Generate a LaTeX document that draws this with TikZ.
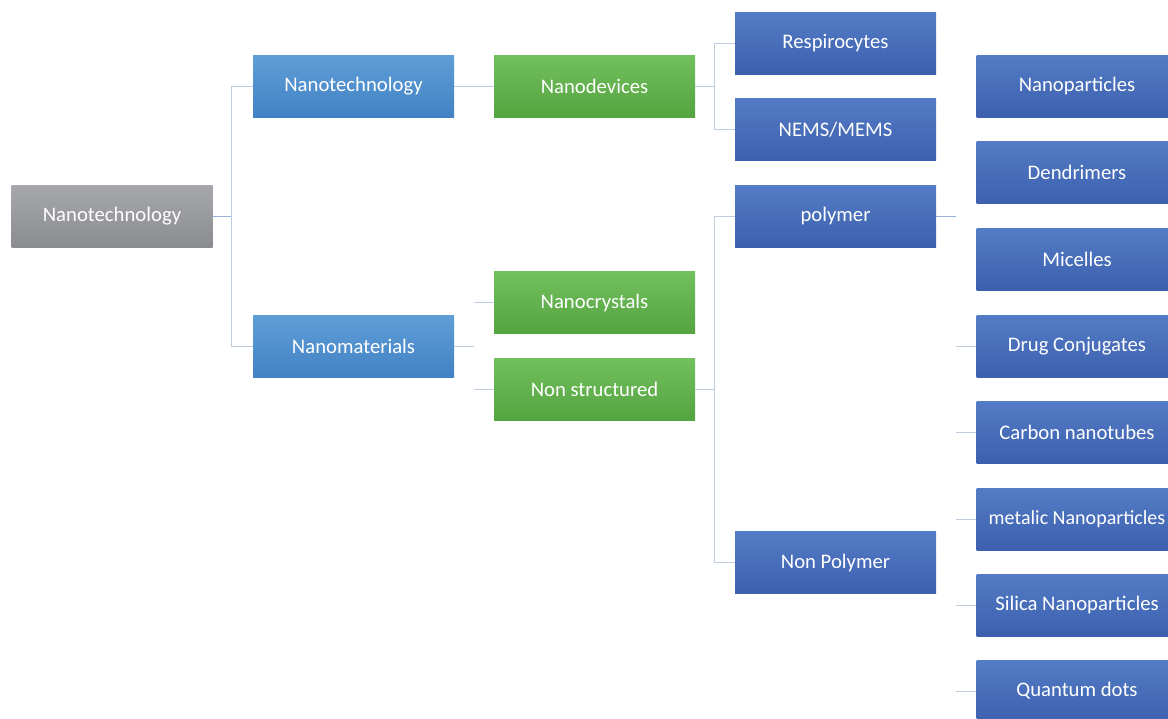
\documentclass[tikz,border=0pt]{standalone}
\usepackage{fontspec}
\setmainfont{Carlito}
\definecolor{grayT}{RGB}{166,168,171}
\definecolor{grayB}{RGB}{138,140,143}
\definecolor{lbT}{RGB}{95,158,215}
\definecolor{lbB}{RGB}{66,130,196}
\definecolor{grT}{RGB}{114,191,94}
\definecolor{grB}{RGB}{84,164,64}
\definecolor{dbT}{RGB}{84,124,198}
\definecolor{dbB}{RGB}{60,96,174}
\definecolor{conn}{RGB}{190,203,225}
\definecolor{connB}{RGB}{150,178,215}
\begin{document}
\begin{tikzpicture}[x=1pt,y=-1pt,
  box/.style={rectangle, minimum width=201pt, minimum height=62pt, inner sep=0pt,
    text=white, font=\fontsize{20.7}{24}\selectfont},
  graybox/.style={box, top color=grayT, bottom color=grayB},
  lbox/.style={box, top color=lbT, bottom color=lbB},
  gbox/.style={box, top color=grT, bottom color=grB},
  dbox/.style={box, top color=dbT, bottom color=dbB},
  link/.style={draw=conn, line width=1pt}]
\useasboundingbox (0,0) rectangle (1168,718);
\clip (0,0) rectangle (1168,718);
\node[graybox] (root) at (112,216) {\raisebox{-1.5pt}{Nanotechnology}};
\node[lbox] (nt) at (353.5,86) {\raisebox{-1.5pt}{Nanotechnology}};
\node[lbox] (nm) at (353.5,346) {\raisebox{-1.5pt}{Nanomaterials}};
\node[gbox] (nd) at (594.5,86) {\raisebox{-1.5pt}{Nanodevices}};
\node[gbox] (nc) at (594.5,302.5) {\raisebox{-1.5pt}{Nanocrystals}};
\node[gbox] (ns) at (594.5,389) {\raisebox{-1.5pt}{Non structured}};
\node[dbox] (re) at (835.5,43) {\raisebox{-1.5pt}{Respirocytes}};
\node[dbox] (ne) at (835.5,129.5) {\raisebox{-1.5pt}{NEMS/MEMS}};
\node[dbox] (po) at (835.5,216) {\raisebox{-1.5pt}{polymer}};
\node[dbox] (np) at (835.5,562.5) {\raisebox{-1.5pt}{Non Polymer}};
\node[dbox] (r1) at (1077,86) {\raisebox{-1.5pt}{Nanoparticles}};
\node[dbox] (r2) at (1077,172.5) {\raisebox{-1.5pt}{Dendrimers}};
\node[dbox] (r3) at (1077,259) {\raisebox{-1.5pt}{Micelles}};
\node[dbox] (r4) at (1077,346) {\raisebox{-1.5pt}{Drug Conjugates}};
\node[dbox] (r5) at (1077,432) {\raisebox{-1.5pt}{Carbon nanotubes}};
\node[dbox, font=\fontsize{20}{24}\selectfont] (r6) at (1077,519) {\raisebox{-1.5pt}{metalic Nanoparticles}};
\node[dbox] (r7) at (1077,605) {\raisebox{-1.5pt}{Silica Nanoparticles}};
\node[dbox] (r8) at (1077,691) {\raisebox{-1.5pt}{Quantum dots}};
% connectors
\draw[link, draw=connB] (root.east) -- ++(19,0);
\draw[link] (nt.west) -- ++(-21,0) |- (nm.west);
\draw[link] (nt.east) -- (nd.west);
\draw[link] (nm.east) -- ++(20,0);
\draw[link] (nc.west) -- ++(-20,0);
\draw[link] (ns.west) -- ++(-20,0);
\draw[link] (nd.east) -- ++(20,0);
\draw[link] (re.west) -- ++(-20,0) |- (ne.west);
\draw[link] (ns.east) -- ++(20,0);
\draw[link] (po.west) -- ++(-20,0) |- (np.west);
\draw[link, draw=connB] (po.east) -- ++(20,0);
\foreach \n in {r4,r5,r6,r7,r8} \draw[link] (\n.west) -- ++(-20,0);
\end{tikzpicture}
\end{document}
